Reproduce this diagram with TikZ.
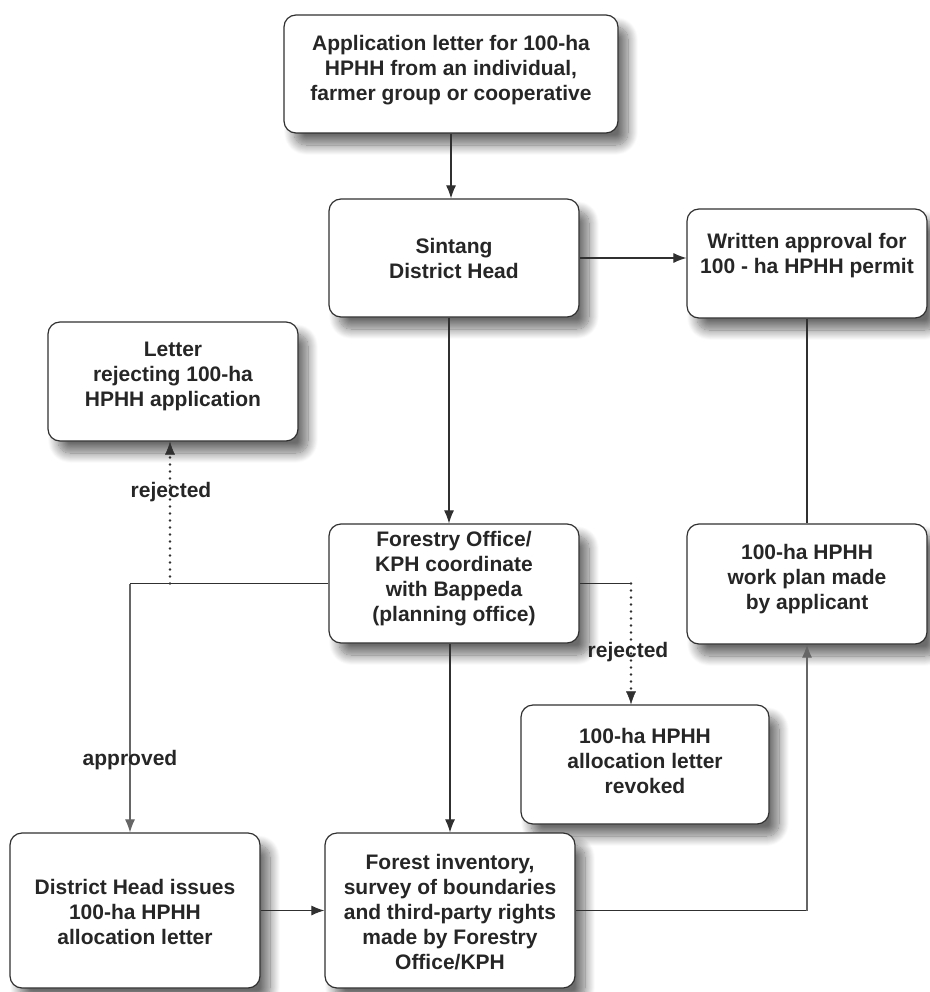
\documentclass[tikz,border=0pt]{standalone}
\usepackage{fontspec}
\setmainfont{Liberation Sans}
\usetikzlibrary{arrows.meta,shadows.blur}
\definecolor{ink}{HTML}{262626}
\definecolor{edge}{HTML}{303030}
\tikzset{
  box/.style={draw=edge, line width=1.2pt, rounded corners=12pt, fill=white, inner sep=0pt,
    blur shadow={shadow xshift=10pt, shadow yshift=-12pt, shadow blur radius=10pt, shadow blur steps=14, shadow opacity=58}},
  txt/.style={align=center, font=\fontsize{21}{25}\selectfont\bfseries, text=ink, inner sep=0pt},
  lbl/.style={font=\fontsize{21}{25}\selectfont\bfseries, text=ink, inner sep=0pt},
  conn/.style={draw=edge, line width=1.1pt},
  greyconn/.style={draw=black!60, line width=1.1pt},
  arr/.style={-{Latex[length=13pt,width=10pt]}},
  dotline/.style={draw=edge, line width=2.6pt, dash pattern=on 0pt off 7pt, line cap=round,
    -{Latex[length=13pt,width=10pt,line width=0.5pt]}},
}
\begin{document}
\begin{tikzpicture}[x=1pt,y=-1pt]
\useasboundingbox (0,0) rectangle (929,992);
% boxes
\node[box, minimum width=334pt, minimum height=118pt] (app) at (451,74) {};
\node[box, minimum width=250pt, minimum height=118pt] (sint) at (454,258) {};
\node[box, minimum width=240pt, minimum height=109pt] (wr) at (807,263.5) {};
\node[box, minimum width=250pt, minimum height=119pt] (let) at (173,381.5) {};
\node[box, minimum width=250pt, minimum height=119pt] (fo) at (454,583.5) {};
\node[box, minimum width=240pt, minimum height=120pt] (wp) at (807,584) {};
\node[box, minimum width=248pt, minimum height=119pt] (rev) at (645,764.5) {};
\node[box, minimum width=250pt, minimum height=155pt] (dh) at (135,910.5) {};
\node[box, minimum width=250pt, minimum height=155pt] (inv) at (450,910.5) {};
% texts
\node[txt] (tapp) at (451,70) {Application letter for 100-ha\\HPHH from an individual,\\farmer group or cooperative};
\node[txt] (tsint) at (454,258) {Sintang\\District Head};
\node[txt] (twr) at (807,256) {Written approval for\\100 - ha HPHH permit};
\node[txt] (tlet) at (173,376) {Letter\\rejecting 100-ha\\HPHH application};
\node[txt] (tfo) at (454,579) {Forestry Office/\\KPH coordinate\\with Bappeda\\(planning office)};
\node[txt] (twp) at (807,579) {100-ha HPHH\\work plan made\\by applicant};
\node[txt] (trev) at (645,761) {100-ha HPHH\\allocation letter\\revoked};
\node[txt] (tdh) at (135,912) {District Head issues\\100-ha HPHH\\allocation letter};
\node[txt] (tinv) at (450,912) {Forest inventory,\\survey of boundaries\\and third-party rights\\made by Forestry\\Office/KPH};
% junction points
\coordinate (apj) at (130,583.5);
\coordinate (rjl) at (170,583.5);
\coordinate (rjr) at (631,583.5);
% connectors
\draw[conn,arr] (app.south) -- (app.south |- sint.north);
\draw[conn,arr] (sint.east) -- (sint.east -| wr.west);
\draw[conn,arr] ([xshift=-5pt]sint.south) -- ([xshift=-5pt]sint.south |- fo.north);
\draw[conn] (wr.south) -- (wp.north);
\draw[conn] (fo.west) -- (apj);
\draw[greyconn,arr] (apj) -- (apj |- dh.north);
\draw[dotline] (rjl) -- (rjl |- let.south);
\draw[conn] (fo.east) -- (rjr);
\draw[dotline] (rjr) -- (rjr |- rev.north);
\draw[conn,arr] (inv.north |- fo.south) -- (inv.north);
\draw[conn,arr] (dh.east) -- (inv.west);
\draw[conn] (inv.east) -- (inv.east -| wp.south);
\draw[greyconn,arr] (inv.east -| wp.south) -- (wp.south);
% labels
\node[lbl] (lap) at (130,760) {approved};
\node[lbl] (lrl) at (171,492) {rejected};
\node[lbl] (lrr) at (628,652) {rejected};
\end{tikzpicture}
\end{document}
